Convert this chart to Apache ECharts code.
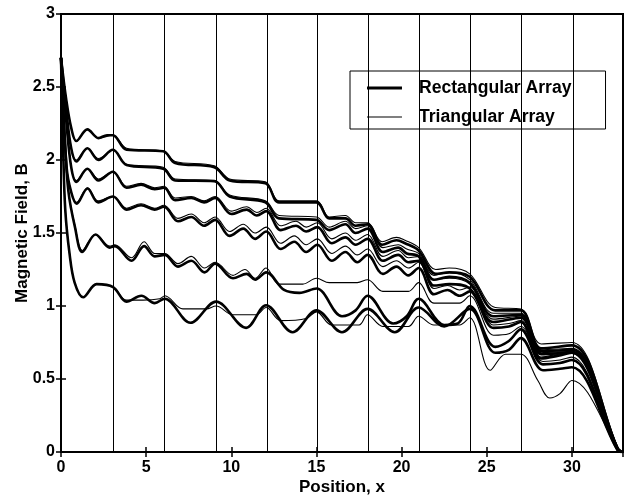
<!DOCTYPE html>
<html><head><meta charset="utf-8">
<script src="https://cdn.jsdelivr.net/npm/echarts@6/dist/echarts.min.js"></script>
<style>html,body{margin:0;padding:0;background:#fff}#c{width:624px;height:495px}</style>
</head><body><div id="c"></div>
<script>
const xTicks = [0,5,10,15,20,25,30];
const yTicks = [0,0.5,1,1.5,2,2.5,3];
const vLines = [3.05,6.07,9.1,12.12,15.06,18.05,21.06,24.05,27.04,30.05];

const rect1 = [[0,2.70],[0.3,2.42],[0.6,2.22],[0.9,2.13],[1.55,2.21],[2.2,2.15],[2.7,2.17],[3.05,2.17],[3.85,2.07],[6.0,2.06],[6.7,1.98],[9.0,1.95],[9.9,1.86],[12.0,1.84],[12.8,1.71],[15.0,1.71],[15.75,1.60],[16.7,1.60],[17.3,1.55],[18.0,1.56],[18.85,1.42],[19.7,1.45],[20.2,1.43],[21.0,1.38],[22.0,1.22],[22.8,1.23],[24.0,1.20],[25.5,0.97],[27.0,0.97],[28.2,0.71],[30.0,0.73],[32.7,0.02],[33,0]];
const rect2 = [[0,2.70],[0.3,2.35],[0.6,2.08],[0.9,1.99],[1.55,2.08],[2.2,2.00],[3.05,2.07],[3.85,1.965],[6.0,1.94],[6.7,1.86],[9.0,1.855],[9.9,1.75],[12.0,1.71],[12.8,1.60],[15.0,1.59],[15.75,1.52],[16.7,1.56],[17.3,1.50],[18.0,1.53],[18.9,1.37],[19.8,1.40],[20.3,1.36],[21.0,1.34],[21.9,1.18],[22.8,1.20],[24.0,1.16],[25.4,0.93],[27.0,0.94],[28.2,0.69],[30.0,0.70],[32.7,0.02],[33,0]];
const rect3 = [[0,2.70],[0.3,2.28],[0.6,1.95],[0.9,1.85],[1.55,1.94],[2.2,1.86],[3.05,1.92],[3.85,1.81],[4.7,1.83],[5.5,1.80],[6.05,1.81],[6.7,1.725],[7.65,1.74],[8.4,1.71],[9.05,1.74],[10.0,1.63],[10.9,1.66],[11.5,1.62],[12.05,1.65],[12.9,1.52],[13.8,1.55],[14.4,1.51],[15.05,1.54],[15.9,1.43],[16.7,1.47],[17.3,1.42],[18.0,1.46],[18.9,1.31],[19.8,1.35],[20.4,1.30],[21.0,1.31],[21.9,1.14],[22.8,1.15],[24.0,1.12],[25.4,0.89],[27.0,0.92],[28.2,0.67],[30.0,0.68],[32.7,0.02],[33,0]];
const rect4 = [[0,2.70],[0.33,1.95],[0.6,1.78],[0.92,1.70],[1.56,1.805],[2.18,1.71],[3.05,1.75],[3.85,1.66],[4.7,1.69],[5.5,1.66],[6.05,1.68],[6.87,1.58],[7.65,1.61],[8.4,1.55],[9.05,1.59],[9.9,1.48],[10.7,1.53],[11.4,1.46],[12.05,1.51],[12.9,1.39],[13.7,1.44],[14.4,1.37],[15.05,1.42],[15.9,1.31],[16.7,1.37],[17.4,1.30],[18.0,1.35],[18.9,1.22],[19.7,1.27],[20.4,1.21],[21.0,1.26],[21.9,1.08],[22.7,1.11],[23.4,1.07],[24.0,1.10],[25.4,0.85],[26.3,0.86],[27.0,0.89],[28.2,0.64],[29.2,0.66],[30.0,0.68],[32.7,0.02],[33,0]];
const rect5 = [[0,2.70],[0.2,2.2],[0.43,1.79],[0.82,1.54],[1.25,1.37],[2.03,1.49],[2.87,1.40],[3.16,1.41],[4.14,1.31],[4.88,1.41],[5.5,1.34],[6.09,1.35],[6.87,1.27],[7.65,1.31],[8.43,1.23],[9.05,1.29],[10.1,1.19],[10.9,1.22],[11.4,1.18],[12.05,1.23],[13.1,1.11],[14.0,1.09],[15.0,1.12],[16.5,0.93],[17.3,0.97],[18.0,1.07],[19.5,0.88],[20.3,0.93],[21.0,1.05],[22.5,0.87],[23.3,0.88],[24.0,1.0],[25.5,0.72],[26.3,0.76],[27.0,0.84],[28.3,0.60],[29.3,0.61],[30.0,0.63],[32.7,0.01],[33,0]];
const rect6 = [[0,2.70],[0.12,2.1],[0.25,1.66],[0.5,1.36],[0.8,1.16],[1.3,1.06],[2.09,1.15],[3.06,1.13],[3.85,1.03],[4.72,1.07],[5.5,1.02],[6.09,1.05],[7.6,0.885],[9.1,1.03],[10.87,0.85],[12.04,1.005],[13.6,0.82],[15.0,0.97],[16.5,0.82],[18.0,0.98],[19.6,0.82],[21.0,0.99],[22.5,0.86],[24.0,0.98],[25.5,0.68],[26.3,0.70],[27.0,0.78],[28.3,0.56],[29.3,0.57],[30.0,0.58],[32.7,0.01],[33,0]];

const tri1 = [[0,2.70],[0.3,2.42],[0.6,2.22],[0.9,2.13],[1.55,2.21],[2.2,2.15],[3.05,2.17],[3.85,2.08],[6.0,2.06],[6.7,1.99],[9.0,1.96],[9.9,1.87],[12.0,1.85],[12.8,1.72],[15.0,1.72],[15.75,1.61],[16.7,1.62],[17.3,1.57],[18.0,1.57],[18.85,1.44],[19.7,1.47],[20.2,1.45],[21.0,1.40],[22.0,1.25],[22.8,1.26],[24.0,1.22],[25.5,0.99],[27.0,0.98],[28.2,0.74],[30.0,0.75],[32.7,0.03],[33,0]];
const tri2 = [[0,2.70],[0.3,2.35],[0.6,2.08],[0.9,2.00],[1.55,2.08],[2.2,2.01],[3.05,2.07],[3.85,1.97],[6.0,1.95],[6.7,1.87],[9.0,1.86],[9.9,1.76],[12.0,1.72],[12.8,1.62],[15.0,1.61],[15.75,1.54],[16.7,1.58],[17.3,1.53],[18.0,1.55],[18.9,1.40],[19.8,1.42],[20.3,1.39],[21.0,1.36],[21.9,1.21],[22.8,1.23],[24.0,1.18],[25.4,0.95],[27.0,0.95],[28.2,0.70],[30.0,0.71],[32.7,0.02],[33,0]];
const tri3 = [[0,2.70],[0.3,2.28],[0.6,1.95],[0.9,1.86],[1.55,1.94],[2.2,1.87],[3.05,1.92],[3.85,1.82],[4.7,1.84],[5.5,1.81],[6.05,1.82],[6.7,1.74],[7.65,1.75],[8.4,1.72],[9.05,1.75],[10.0,1.65],[10.9,1.68],[11.5,1.64],[12.05,1.67],[12.9,1.55],[13.8,1.58],[14.4,1.54],[15.05,1.57],[15.9,1.46],[16.7,1.50],[17.3,1.45],[18.0,1.49],[18.9,1.34],[19.8,1.38],[20.4,1.33],[21.0,1.34],[21.9,1.18],[22.8,1.19],[24.0,1.15],[25.4,0.91],[27.0,0.93],[28.2,0.68],[30.0,0.69],[32.7,0.02],[33,0]];
const tri4 = [[0,2.70],[0.33,1.95],[0.6,1.78],[0.92,1.71],[1.56,1.81],[2.18,1.72],[3.05,1.75],[3.85,1.67],[4.7,1.70],[5.5,1.67],[6.05,1.69],[6.87,1.60],[7.65,1.63],[8.4,1.57],[9.05,1.61],[9.9,1.51],[10.7,1.56],[11.4,1.50],[12.05,1.54],[12.9,1.43],[13.7,1.48],[14.4,1.42],[15.05,1.46],[15.9,1.36],[16.7,1.41],[17.4,1.35],[18.0,1.39],[18.9,1.27],[19.7,1.31],[20.4,1.26],[21.0,1.30],[21.9,1.12],[22.7,1.14],[23.4,1.11],[24.0,1.13],[25.4,0.87],[26.3,0.88],[27.0,0.90],[28.2,0.65],[29.2,0.67],[30.0,0.69],[32.7,0.02],[33,0]];
const tri5 = [[0,2.70],[0.2,2.2],[0.43,1.79],[0.82,1.55],[1.25,1.38],[2.03,1.49],[2.87,1.41],[3.16,1.42],[4.14,1.33],[4.88,1.44],[5.5,1.36],[6.09,1.36],[6.87,1.29],[7.65,1.34],[8.43,1.26],[9.05,1.30],[10.1,1.21],[10.8,1.25],[11.4,1.19],[12.04,1.26],[12.8,1.15],[14.2,1.15],[15.0,1.19],[15.75,1.16],[17.4,1.16],[18.0,1.18],[18.9,1.10],[20.4,1.10],[21.0,1.16],[21.9,1.02],[23.4,1.02],[24.0,1.07],[25.4,0.80],[26.3,0.81],[27.0,0.86],[28.3,0.62],[29.3,0.63],[30.0,0.65],[32.7,0.01],[33,0]];
const tri6 = [[0,2.70],[0.12,2.1],[0.25,1.66],[0.5,1.36],[0.8,1.16],[1.3,1.06],[2.09,1.15],[3.06,1.13],[3.85,1.04],[4.82,1.04],[5.8,1.05],[6.1,1.07],[7.16,0.98],[8.53,0.98],[9.1,1.00],[10.1,0.94],[11.46,0.94],[12.04,0.99],[12.9,0.90],[14.4,0.915],[15.0,0.96],[15.9,0.87],[17.5,0.87],[18.0,0.94],[18.9,0.86],[20.4,0.86],[21.0,0.93],[21.9,0.87],[23.4,0.87],[24.0,0.92],[25.2,0.56],[26.1,0.67],[27.0,0.67],[28.0,0.49],[28.7,0.37],[29.3,0.40],[30.0,0.49],[32.8,0.01],[33,0]];

const rectSets = [rect1, rect2, rect3, rect4, rect5, rect6];
const triSets = [tri1, tri2, tri3, tri4, tri5, tri6];
const RECT = 'Rectangular Array', TRI = 'Triangular Array';

const series = [];
rectSets.forEach(d => series.push({name: RECT, type:'line', data:d, showSymbol:false, symbol:'none', smooth:0.35,
  lineStyle:{color:'#000', width:2.6}, itemStyle:{color:'#000'}, z:3}));
triSets.forEach(d => series.push({name: TRI, type:'line', data:d, showSymbol:false, symbol:'none', smooth:0.35,
  lineStyle:{color:'#000', width:1.1}, itemStyle:{color:'#000'}, z:4}));
series.push({type:'line', data:[], markLine:{silent:true, symbol:['none','none'], label:{show:false},
  lineStyle:{color:'#000', width:1, type:'solid'}, data: vLines.map(v => ({xAxis:v}))}});

const font = 'Liberation Sans, Arial, sans-serif';
const chart = echarts.init(document.getElementById('c'), null, {renderer:'canvas'});
const axisCommon = {
  axisLine:{show:false}, splitLine:{show:false},
  axisTick:{show:true, inside:true, length:5, lineStyle:{color:'#000', width:1.5}},
};
// legend icons: thin specks at top/bottom keep the icon box 14 tall so the bar keeps its thickness
const iconThick = 'path://M0 0h0.01v0.01h-0.01z M0 5.6H35V8.4H0Z M0 14h0.01v0.01h-0.01z';
const iconThin = 'path://M0 0h0.01v0.01h-0.01z M0 6.4H35V7.6H0Z M0 14h0.01v0.01h-0.01z';
chart.setOption({
  animation:false,
  backgroundColor:'#fff',
  grid:{left:61, right:1, top:14, bottom:43, containLabel:false, outerBoundsMode:'none',
    show:true, borderColor:'#000', borderWidth:2, backgroundColor:'transparent'},
  legend:{
    data:[{name:RECT, icon:iconThick}, {name:TRI, icon:iconThin}],
    orient:'vertical', left:350, top:71,
    padding:[8,34,3,17], itemGap:11, itemWidth:35, itemHeight:14,
    backgroundColor:'#fff', borderColor:'#000', borderWidth:1,
    itemStyle:{color:'#000', borderWidth:0},
    textStyle:{fontFamily:font, fontWeight:'bold', fontSize:17.6, lineHeight:18, color:'#000', padding:[0,0,0,12]},
    selectedMode:false
  },
  xAxis:[
    Object.assign({type:'value', min:0, max:33, interval:5, position:'bottom',
      axisLabel:{show:true, showMaxLabel:false, color:'#000', fontFamily:font, fontWeight:'bold', fontSize:16, margin:8},
      name:'Position, x', nameLocation:'middle', nameGap:27, nameMoveOverlap:false,
      nameTextStyle:{color:'#000', fontFamily:font, fontWeight:'bold', fontSize:17}}, axisCommon),
    Object.assign({type:'value', min:0, max:33, interval:5, position:'top', axisLabel:{show:false}}, axisCommon)
  ],
  yAxis:[
    Object.assign({type:'value', min:0, max:3, interval:0.5, position:'left',
      axisLabel:{show:true, color:'#000', fontFamily:font, fontWeight:'bold', fontSize:16, margin:6,
        formatter: v => String(v)},
      name:'Magnetic Field, B', nameLocation:'middle', nameGap:30, nameMoveOverlap:false,
      nameTextStyle:{color:'#000', fontFamily:font, fontWeight:'bold', fontSize:17}}, axisCommon),
    Object.assign({type:'value', min:0, max:3, interval:0.5, position:'right', axisLabel:{show:false}}, axisCommon)
  ],
  series: series
});
</script></body></html>
